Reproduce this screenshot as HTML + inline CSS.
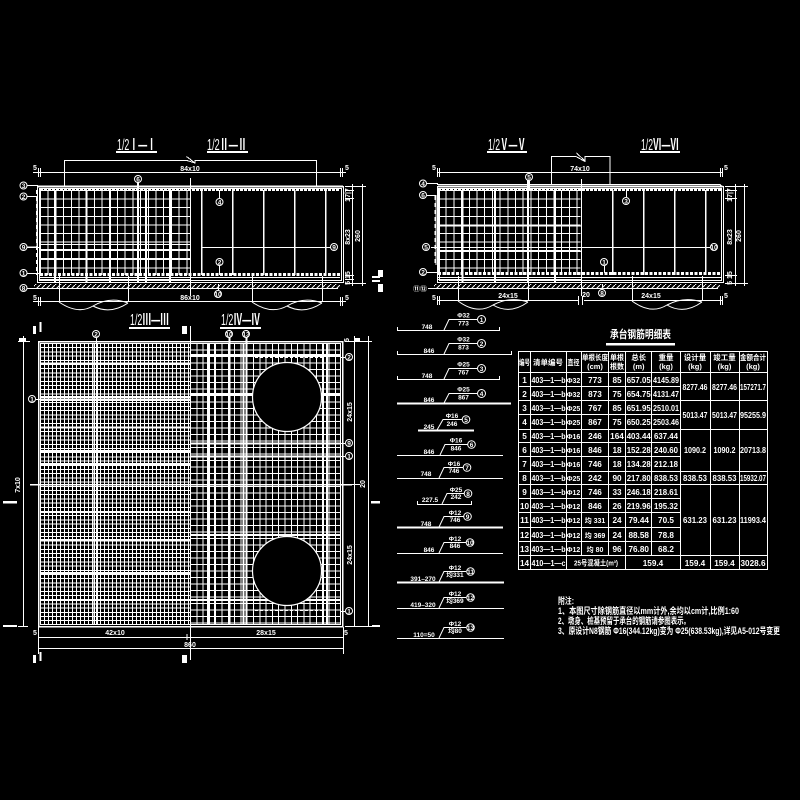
<!DOCTYPE html>
<html><head><meta charset="utf-8"><style>
html,body{margin:0;padding:0;background:#000;width:800px;height:800px;overflow:hidden}
svg{display:block}
text{font-family:"Liberation Sans","Noto Sans CJK SC",sans-serif;fill:#fff;stroke:none}
.d{font-size:7px;text-anchor:middle;font-weight:bold}
.t{font-size:8.2px;text-anchor:middle;font-weight:bold}
.s{font-size:7px;text-anchor:middle;font-weight:bold}
.h{font-size:7.5px;text-anchor:middle;font-weight:bold}
.c{font-size:6.5px;text-anchor:middle;font-weight:bold}
.ti{font-size:16px}
.n{font-size:9px}
</style></head><body>
<svg width="800" height="800" viewBox="0 0 800 800" xmlns="http://www.w3.org/2000/svg">
<defs>
<pattern id="ha" patternUnits="userSpaceOnUse" width="5" height="5"><path d="M0 5L5 0" stroke="#fff" fill="none"/></pattern>
</defs>
<rect width="800" height="800" fill="#000"/>

<!-- titles -->
<text class="ti" x="117" y="150" textLength="39" lengthAdjust="spacingAndGlyphs">1/2<tspan font-weight="bold">Ⅰ—Ⅰ</tspan></text>
<text class="ti" x="207" y="150" textLength="40" lengthAdjust="spacingAndGlyphs">1/2<tspan font-weight="bold">Ⅱ—Ⅱ</tspan></text>
<text class="ti" x="488" y="150" textLength="38" lengthAdjust="spacingAndGlyphs">1/2<tspan font-weight="bold">Ⅴ—Ⅴ</tspan></text>
<text class="ti" x="641" y="150" textLength="38" lengthAdjust="spacingAndGlyphs">1/2<tspan font-weight="bold">Ⅵ—Ⅵ</tspan></text>
<text class="ti" x="130" y="325" textLength="39" lengthAdjust="spacingAndGlyphs">1/2<tspan font-weight="bold">Ⅲ—Ⅲ</tspan></text>
<text class="ti" x="221" y="325" textLength="39" lengthAdjust="spacingAndGlyphs">1/2<tspan font-weight="bold">Ⅳ—Ⅳ</tspan></text>
<g fill="#fff" shape-rendering="crispEdges">
<rect x="116" y="151" width="41" height="2"/><rect x="207" y="151" width="41" height="2"/>
<rect x="487" y="151" width="40" height="2"/><rect x="640" y="151" width="40" height="2"/>
<rect x="129" y="327" width="41" height="2"/><rect x="220" y="327" width="41" height="2"/>
</g>

<!-- SECTION 1 -->
<g fill="none" stroke="#fff" shape-rendering="crispEdges">
<path d="M40 232.500H190" stroke-width="85" stroke-dasharray="1 6.700"/>
<path d="M115 190V275" stroke-width="150" stroke-dasharray="1 7.600"/>
<path stroke-width="2" d="M55 190V283M86.500 190V283M110 190V283M138 179V283M146 190V283M170 190V283"/>
<path d="M40 244.500H190M40 249.500H190M40 258.500H190"/>
<path d="M201.500 190V275M232.500 190V275M263.500 190V275M294.500 190V275M325.500 190V275" stroke-width="1.500"/>
<path d="M201 247.500H334"/>
<path d="M190.500 178V296"/>
<rect x="37.500" y="186.500" width="306" height="96"/>
<rect x="39.500" y="188.500" width="302" height="92"/>
<path d="M38 186.500H343" stroke-width="2"/>
<path d="M40 189.500H340" stroke-width="3" stroke-dasharray="3 1"/>
<path d="M40 274.500H340" stroke-width="3" stroke-dasharray="3 1.500"/>
<path d="M40 277.500H340M40 279.500H190"/>
<path d="M30 288.500H338"/>
<path d="M37 190V275" stroke-width="2" stroke-dasharray="4 3"/>
<path d="M64.500 186V160.500H187L195 163V160.500H316.500V186"/>
<path d="M186.500 156.500L195 163"/>
<path d="M33 172.500H346"/><path d="M38.500 168V177M40.500 168V177M340.500 168V177M342.500 168V177"/>
<path d="M33 301.500H346"/><path d="M38.500 297V306M40.500 297V306M340.500 297V306M342.500 297V306"/>
<path d="M59.500 276V302M128.500 276V302M252.500 276V302M322.500 276V302"/>
<path d="M345 186.500H366M345 190.500H354M345 198.500H354M345 275.500H354M345 279.500H354M345 283.500H366"/>
<path d="M352.500 184V286M362.500 184V286"/>
<path d="M26 185.500H38M26 196.500H37V247H26M27 247.500H40M27 273.500H40M27 288.500H34M138.500 183V190M219.500 190V199M219.500 265V275M218.500 284V290M330 247.500H325"/>
</g>
<rect x="34" y="284" width="306" height="4.500" fill="url(#ha)"/>
<path d="M59 302Q78 315 93 306Q110 296 128 303M93 306Q110 315 128 303M252 302Q271 315 287 306Q304 296 322 303M287 306Q304 315 322 303" fill="none" stroke="#fff"/>
<g fill="#fff" shape-rendering="crispEdges">
<rect x="372" y="276" width="8" height="2"/><rect x="372" y="280" width="8" height="2"/>
<rect x="378" y="270" width="5" height="7"/><rect x="378" y="284" width="5" height="8"/>
</g>
<text class="d" x="190" y="171">84x10</text><text class="d" x="190" y="300">86x10</text>
<text class="d" x="35" y="170">5</text><text class="d" x="347" y="170">5</text>
<text class="d" x="35" y="300">5</text><text class="d" x="347" y="300">5</text>
<text class="d" transform="translate(350,195) rotate(-90)">17|7</text>
<text class="d" transform="translate(350,237) rotate(-90)">8x23</text>
<text class="d" transform="translate(360,236) rotate(-90)">260</text>
<text class="d" transform="translate(350,278) rotate(-90)">5 15</text>

<!-- SECTION 2 -->
<g fill="none" stroke="#fff" shape-rendering="crispEdges">
<path d="M438 232.500H581" stroke-width="85" stroke-dasharray="1 6.700"/>
<path d="M509 190V275" stroke-width="143" stroke-dasharray="1 7.600"/>
<path stroke-width="2" d="M462.500 190V283M495 190V283M528 177V283M555 190V283"/>
<path d="M438 226H581M438 247.500H581M438 251.500H581"/>
<path d="M612.500 190V275M643.500 190V275M674.500 190V275M705.500 190V275" stroke-width="1.500"/>
<path d="M582 247.500H710"/>
<path d="M581.500 179V296"/>
<rect x="437.500" y="186.500" width="286" height="96"/>
<rect x="439.500" y="188.500" width="282" height="92"/>
<path d="M437 184.500H720L723 187"/>
<path d="M438 186.500H722" stroke-width="2"/>
<path d="M438 189.500H722" stroke-width="3" stroke-dasharray="3 1"/>
<path d="M438 273.500H720" stroke-width="3" stroke-dasharray="3 1.500"/>
<path d="M438 277.500H722M438 279.500H581"/>
<path d="M430 288.500H718"/>
<path d="M435 196V265" stroke-width="1.500" stroke-dasharray="4 3"/>
<path d="M551.500 184V156.500H576L585 161.500V156.500H610V184"/><path d="M576.500 153L585 161"/>
<path d="M437 172.500H722"/><path d="M437.500 168V177M439.500 168V177M720.500 168V177M722.500 168V177"/>
<path d="M437 300.500H578M584 300.500H723"/><path d="M437.500 296V305M439.500 296V305M578.500 296V305M582.500 296V305M720.500 296V305M722.500 296V305"/>
<path d="M458.500 276V301M528.500 276V301M632.500 276V301M702.500 276V301"/>
<path d="M725 186.500H748M725 190.500H737M725 198.500H737M725 275.500H737M725 283.500H748"/>
<path d="M735.500 184V286M744.500 184V286"/>
<path d="M427 183.500H438M427 195.500H436V265M431 247.500H438M427 272.500H438M428 288.500H434M529.500 181V190M626.500 190V197M604.500 266V273M602.500 284V289M710 247.500H706"/>
</g>
<rect x="434" y="284" width="286" height="4.500" fill="url(#ha)"/>
<path d="M458 301Q477 315 493 305Q510 296 528 302M493 305Q510 315 528 302M632 301Q651 315 667 305Q684 296 702 302M667 305Q684 315 702 302" fill="none" stroke="#fff"/>
<text class="d" x="580" y="171">74x10</text>
<text class="d" x="508" y="298">24x15</text><text class="d" x="651" y="298">24x15</text><text class="d" x="586" y="297">20</text>
<text class="d" x="434" y="170">5</text><text class="d" x="726" y="170">5</text>
<text class="d" x="434" y="300">5</text><text class="d" x="726" y="298">5</text>
<text class="d" transform="translate(732,195) rotate(-90)">17|7</text>
<text class="d" transform="translate(732,237) rotate(-90)">8x23</text>
<text class="d" transform="translate(741,236) rotate(-90)">260</text>
<text class="d" transform="translate(732,278) rotate(-90)">5 15</text>

<!-- PLAN -->
<g fill="none" stroke="#fff" shape-rendering="crispEdges">
<!-- left half: dense mesh drawn as dashed wide strokes -->
<path d="M40 484H190" stroke-width="282" stroke-dasharray="1 3"/>
<path d="M115 343V625" stroke-width="150" stroke-dasharray="1 3.200"/>
<!-- right half: open mesh -->
<path d="M190 484H340" stroke-width="282" stroke-dasharray="1 5.300"/>
<path d="M265 343V625" stroke-width="150" stroke-dasharray="1 5.500"/>
<g stroke-width="2">
<path d="M40 363.500H190M40 397H190M40 400H190M40 427.500H190M40 451H190M40 464H190M40 512H190M40 540H190M40 573H190M40 600H190"/>
<path d="M94 343V625M97 343V625" stroke-width="1.500"/>
<path d="M208 343V625M215 343V625M229.500 330V625M243.500 343V625M246.500 330V625M323 343V625M327 343V625"/>
<path d="M190 355H340M190 394H340M190 443.500H340M190 456.500H340M190 535H340M190 600H340"/>
</g>
<path d="M255 357.500H325M255 457H325M255 610.500H322" stroke-dasharray="3 2"/>
<rect x="38.500" y="341.500" width="304" height="285" stroke-width="1.500"/>
<rect x="40.500" y="343.500" width="300" height="281"/>
<path d="M30 484.500H352" stroke-width="1.500"/>
<path d="M36 399.500H190"/>
<path d="M190.500 326V660"/>
<path d="M23.500 336V627M354.500 336V627M368.500 336V627"/>
<path d="M18 341.500H30M345 341.500H372M345 484.500H360M345 626.500H372M18 626.500H28"/>
<path d="M38.500 634V641M343.500 634V641M38.500 627V654M343.500 627V654"/>
<path d="M38 637.500H343M38 648.500H343M187 634V640"/>
<path d="M96.500 338V343M229.500 338V343M246.500 338V343M340 357.500H345M340 443.500H345M340 456.500H345M340 611.500H345"/>
<path d="M40.500 322V332M40.500 652V661" stroke-width="2"/>
</g>
<circle cx="287" cy="397" r="34.500" fill="#000" stroke="#fff" stroke-width="1.200"/>
<circle cx="287" cy="571" r="34.500" fill="#000" stroke="#fff" stroke-width="1.200"/>
<g fill="#fff" shape-rendering="crispEdges">
<rect x="3" y="501" width="14" height="2.500"/><rect x="371" y="501" width="9" height="2.500"/>
<rect x="3" y="625" width="14" height="2"/><rect x="372" y="625" width="8" height="2"/>
<rect x="33" y="326" width="3" height="8"/><rect x="182" y="326" width="5" height="8"/>
<rect x="33" y="655" width="3" height="8"/><rect x="182" y="655" width="5" height="8"/>
<rect x="19" y="338" width="7" height="4"/><rect x="354" y="338" width="6" height="3"/>
</g>
<text class="d" x="115" y="635">42x10</text><text class="d" x="266" y="635">28x15</text><text class="d" x="190" y="647">860</text>
<text class="d" x="35" y="635">5</text><text class="d" x="346" y="635">5</text>
<text class="d" transform="translate(20,485) rotate(-90)">7x10</text>
<text class="d" transform="translate(352,412) rotate(-90)">24x15</text>
<text class="d" transform="translate(352,555) rotate(-90)">24x15</text>
<text class="d" transform="translate(365,484) rotate(-90)">20</text>
<text class="d" transform="translate(349,340) rotate(-90)">5</text>

<!-- circled labels -->
<g fill="#000" stroke="#fff">
<circle cx="23.500" cy="185.500" r="3.500"/><circle cx="23.500" cy="196.500" r="3.500"/><circle cx="23.500" cy="247" r="3.500"/><circle cx="23.500" cy="273" r="3.500"/><circle cx="23.500" cy="288" r="3.500"/>
<circle cx="138" cy="179" r="3.500"/><circle cx="219.500" cy="202" r="3.500"/><circle cx="219.500" cy="262" r="3.500"/><circle cx="334" cy="247" r="3.500"/><circle cx="218" cy="294" r="3.500"/>
<circle cx="423" cy="183.500" r="3.500"/><circle cx="423" cy="195" r="3.500"/><circle cx="426" cy="247" r="3.500"/><circle cx="423" cy="272" r="3.500"/>
<circle cx="529" cy="177" r="3.500"/><circle cx="626" cy="201" r="3.500"/><circle cx="604" cy="262" r="3.500"/><circle cx="714" cy="247" r="3.500"/><circle cx="602" cy="293" r="3.500"/>
<circle cx="32" cy="399" r="3.500"/><circle cx="96" cy="334" r="3.500"/><circle cx="229" cy="334" r="3.500"/><circle cx="246" cy="334" r="3.500"/>
<circle cx="349" cy="357" r="3.500"/><circle cx="349" cy="443" r="3.500"/><circle cx="349" cy="456" r="3.500"/><circle cx="349" cy="611" r="3.500"/>
</g>
<g>
<text class="c" x="23.500" y="188">3</text><text class="c" x="23.500" y="199">2</text><text class="c" x="23.500" y="249.500">9</text><text class="c" x="23.500" y="275.500">1</text><text class="c" x="23.500" y="290.500">8</text>
<text class="c" x="138" y="181.500">6</text><text class="c" x="219.500" y="204.500">4</text><text class="c" x="219.500" y="264.500">2</text><text class="c" x="334" y="249.500">9</text><text class="c" x="218" y="296.500">10</text>
<text class="c" x="423" y="186">4</text><text class="c" x="423" y="197.500">6</text><text class="c" x="426" y="249.500">5</text><text class="c" x="423" y="274.500">2</text><text class="d" x="420" y="291">⑪⑫</text>
<text class="c" x="529" y="179.500">5</text><text class="c" x="626" y="203.500">3</text><text class="c" x="604" y="264.500">1</text><text class="c" x="714" y="249.500">10</text><text class="c" x="602" y="295.500">8</text>
<text class="c" x="32" y="401.500">1</text><text class="c" x="96" y="336.500">2</text><text class="c" x="229" y="336.500">10</text><text class="c" x="246" y="336.500">13</text>
<text class="c" x="349" y="359.500">2</text><text class="c" x="349" y="445.500">9</text><text class="c" x="349" y="458.500">1</text><text class="c" x="349" y="613.500">1</text>
</g>

<!-- REBAR SCHEDULE -->
<g fill="none" stroke="#fff" shape-rendering="crispEdges">
<path d="M397.500 327V330.500H499.500V327"/>
<path d="M397.500 351V354.500H511.500V351"/>
<path d="M397.500 376V379.500H499.500V376"/>
<path d="M397 403.500H511" stroke-width="2"/>
<path d="M418 430.500H474" stroke-width="2"/>
<path d="M397 455.500H503"/>
<path d="M397 478.500H503"/>
<path d="M417.500 501V504.500H471.500V501"/>
<path d="M397 527.500H503" stroke-width="2"/>
<path d="M397 553.500H503"/>
<path d="M397 582.500H504" stroke-width="2"/>
<path d="M397 608.500H504"/>
<path d="M397 638.500H504"/>
</g>
<g fill="none" stroke="#fff">
<path d="M444 330L449 319.500H477M444 354L449 343.500H477M444 379L449 368.500H477M444 403L449 393.500H477M437 430L443 419.500H462M440 455L445 444.500H468M439 478L444 467.500H463M442 504L447 493.500H464M439 527L444 516.500H464M439 553L444 542.500H466M439 582L444 571.500H466M439 608L444 597.500H466M439 638L444 627.500H466"/>
<circle cx="481.500" cy="319.500" r="4"/><circle cx="481.500" cy="343.500" r="4"/><circle cx="481.500" cy="368.500" r="4"/><circle cx="481.500" cy="393.500" r="4"/><circle cx="466" cy="419.500" r="3.800"/><circle cx="471.500" cy="444.500" r="3.800"/><circle cx="467" cy="467.500" r="3.800"/><circle cx="468" cy="493.500" r="3.800"/><circle cx="467.500" cy="516.500" r="3.800"/><circle cx="470" cy="542.500" r="3.800"/><circle cx="470.500" cy="571.500" r="3.800"/><circle cx="470.500" cy="597.500" r="3.800"/><circle cx="470.500" cy="627.500" r="3.800"/>
</g>
<g>
<text class="c" x="481.500" y="322">1</text><text class="c" x="481.500" y="346">2</text><text class="c" x="481.500" y="371">3</text><text class="c" x="481.500" y="396">4</text><text class="c" x="466" y="422">5</text><text class="c" x="471.500" y="447">6</text><text class="c" x="467" y="470">7</text><text class="c" x="468" y="496">8</text><text class="c" x="467.500" y="519">9</text><text class="c" x="470" y="545">10</text><text class="c" x="470.500" y="574">11</text><text class="c" x="470.500" y="600">12</text><text class="c" x="470.500" y="630">13</text>
<text class="c" x="463.500" y="317.500">Φ32</text><text class="c" x="463.500" y="325.500">773</text><text class="c" x="427" y="329">748</text>
<text class="c" x="463.500" y="341.500">Φ32</text><text class="c" x="463.500" y="349.500">873</text><text class="c" x="429" y="353">846</text>
<text class="c" x="463.500" y="366.500">Φ25</text><text class="c" x="463.500" y="374.500">767</text><text class="c" x="427" y="378">748</text>
<text class="c" x="463.500" y="391.500">Φ25</text><text class="c" x="463.500" y="399.500">867</text><text class="c" x="429" y="402">846</text>
<text class="c" x="452" y="418">Φ16</text><text class="c" x="452" y="426">246</text><text class="c" x="429" y="429">245</text>
<text class="c" x="456" y="442.500">Φ16</text><text class="c" x="456" y="450.500">846</text><text class="c" x="429" y="454">846</text>
<text class="c" x="454" y="466">Φ16</text><text class="c" x="454" y="473">746</text><text class="c" x="426" y="476">748</text>
<text class="c" x="456" y="492">Φ25</text><text class="c" x="456" y="499">242</text><text class="c" x="430" y="502">227.5</text>
<text class="c" x="455" y="515">Φ12</text><text class="c" x="455" y="522">746</text><text class="c" x="426" y="526">748</text>
<text class="c" x="455" y="541">Φ12</text><text class="c" x="455" y="548">846</text><text class="c" x="429" y="552">846</text>
<text class="c" x="455" y="570">Φ12</text><text class="c" x="455" y="577">均331</text><text class="c" x="423" y="581">391–270</text>
<text class="c" x="455" y="596">Φ12</text><text class="c" x="455" y="603">均369</text><text class="c" x="423" y="607">419–320</text>
<text class="c" x="455" y="626">Φ12</text><text class="c" x="455" y="633">均80</text><text class="c" x="424" y="637">110=50</text>
</g>

<!-- TABLE -->
<text x="610" y="338" font-size="11" font-weight="bold" textLength="61" lengthAdjust="spacingAndGlyphs">承台钢筋明细表</text>
<rect x="606" y="343" width="69" height="2.500" fill="#fff"/>
<g fill="none" stroke="#fff" shape-rendering="crispEdges">
<rect x="518.500" y="351.500" width="249" height="218"/>
<path d="M518 372.500H767M518 386.500H680M518 400.500H767M518 414.500H680M518 429.500H767M518 442.500H680M518 456.500H680M518 471.500H767M518 484.500H767M518 498.500H680M518 512.500H680M518 527.500H680M518 541.500H680M518 555.500H767"/>
<path d="M530.500 352V569M566.500 352V569M581.500 352V555M608.500 352V555M625.500 352V569M651.500 352V555M680.500 352V569M710.500 352V569M739.500 352V569"/>
</g>
<g>
<text class="h" x="524.500" y="365" textLength="11" lengthAdjust="spacingAndGlyphs">编号</text><text class="h" x="548" y="365">清单编号</text><text class="h" x="573.500" y="365" textLength="12" lengthAdjust="spacingAndGlyphs">直径</text>
<text class="h" x="595" y="360" textLength="26" lengthAdjust="spacingAndGlyphs">单根长度</text><text class="h" x="595" y="369">(cm)</text>
<text class="h" x="617" y="360" textLength="14" lengthAdjust="spacingAndGlyphs">单根</text><text class="h" x="617" y="369" textLength="14" lengthAdjust="spacingAndGlyphs">根数</text>
<text class="h" x="638.700" y="360">总长</text><text class="h" x="638.700" y="369">(m)</text>
<text class="h" x="666" y="360">重量</text><text class="h" x="666" y="369">(kg)</text>
<text class="h" x="695" y="360">设计量</text><text class="h" x="695" y="369">(kg)</text>
<text class="h" x="724.500" y="360">竣工量</text><text class="h" x="724.500" y="369">(kg)</text>
<text class="h" x="753" y="360" textLength="26" lengthAdjust="spacingAndGlyphs">金额合计</text><text class="h" x="753" y="369">(kg)</text>
</g>
<g>
<text class="t" x="524.500" y="383">1</text><text class="t" x="548.500" y="383" textLength="34" lengthAdjust="spacingAndGlyphs">403—1—b</text><text class="s" x="573.500" y="383">Φ32</text><text class="t" x="595" y="383">773</text><text class="t" x="617" y="383">85</text><text class="t" x="638.700" y="383" textLength="24" lengthAdjust="spacingAndGlyphs">657.05</text><text class="t" x="666" y="383" textLength="26" lengthAdjust="spacingAndGlyphs">4145.89</text>
<text class="t" x="524.500" y="397">2</text><text class="t" x="548.500" y="397" textLength="34" lengthAdjust="spacingAndGlyphs">403—1—b</text><text class="s" x="573.500" y="397">Φ32</text><text class="t" x="595" y="397">873</text><text class="t" x="617" y="397">75</text><text class="t" x="638.700" y="397" textLength="24" lengthAdjust="spacingAndGlyphs">654.75</text><text class="t" x="666" y="397" textLength="26" lengthAdjust="spacingAndGlyphs">4131.47</text>
<text class="t" x="524.500" y="411">3</text><text class="t" x="548.500" y="411" textLength="34" lengthAdjust="spacingAndGlyphs">403—1—b</text><text class="s" x="573.500" y="411">Φ25</text><text class="t" x="595" y="411">767</text><text class="t" x="617" y="411">85</text><text class="t" x="638.700" y="411" textLength="24" lengthAdjust="spacingAndGlyphs">651.95</text><text class="t" x="666" y="411" textLength="26" lengthAdjust="spacingAndGlyphs">2510.01</text>
<text class="t" x="524.500" y="425">4</text><text class="t" x="548.500" y="425" textLength="34" lengthAdjust="spacingAndGlyphs">403—1—b</text><text class="s" x="573.500" y="425">Φ25</text><text class="t" x="595" y="425">867</text><text class="t" x="617" y="425">75</text><text class="t" x="638.700" y="425" textLength="24" lengthAdjust="spacingAndGlyphs">650.25</text><text class="t" x="666" y="425" textLength="26" lengthAdjust="spacingAndGlyphs">2503.46</text>
<text class="t" x="524.500" y="439">5</text><text class="t" x="548.500" y="439" textLength="34" lengthAdjust="spacingAndGlyphs">403—1—b</text><text class="s" x="573.500" y="439">Φ16</text><text class="t" x="595" y="439">246</text><text class="t" x="617" y="439">164</text><text class="t" x="638.700" y="439" textLength="24" lengthAdjust="spacingAndGlyphs">403.44</text><text class="t" x="666" y="439" textLength="24" lengthAdjust="spacingAndGlyphs">637.44</text>
<text class="t" x="524.500" y="453">6</text><text class="t" x="548.500" y="453" textLength="34" lengthAdjust="spacingAndGlyphs">403—1—b</text><text class="s" x="573.500" y="453">Φ16</text><text class="t" x="595" y="453">846</text><text class="t" x="617" y="453">18</text><text class="t" x="638.700" y="453" textLength="24" lengthAdjust="spacingAndGlyphs">152.28</text><text class="t" x="666" y="453" textLength="24" lengthAdjust="spacingAndGlyphs">240.60</text>
<text class="t" x="524.500" y="467">7</text><text class="t" x="548.500" y="467" textLength="34" lengthAdjust="spacingAndGlyphs">403—1—b</text><text class="s" x="573.500" y="467">Φ16</text><text class="t" x="595" y="467">746</text><text class="t" x="617" y="467">18</text><text class="t" x="638.700" y="467" textLength="24" lengthAdjust="spacingAndGlyphs">134.28</text><text class="t" x="666" y="467" textLength="24" lengthAdjust="spacingAndGlyphs">212.18</text>
<text class="t" x="524.500" y="481">8</text><text class="t" x="548.500" y="481" textLength="34" lengthAdjust="spacingAndGlyphs">403—1—b</text><text class="s" x="573.500" y="481">Φ25</text><text class="t" x="595" y="481">242</text><text class="t" x="617" y="481">90</text><text class="t" x="638.700" y="481" textLength="24" lengthAdjust="spacingAndGlyphs">217.80</text><text class="t" x="666" y="481" textLength="24" lengthAdjust="spacingAndGlyphs">838.53</text>
<text class="t" x="524.500" y="495">9</text><text class="t" x="548.500" y="495" textLength="34" lengthAdjust="spacingAndGlyphs">403—1—b</text><text class="s" x="573.500" y="495">Φ12</text><text class="t" x="595" y="495">746</text><text class="t" x="617" y="495">33</text><text class="t" x="638.700" y="495" textLength="24" lengthAdjust="spacingAndGlyphs">246.18</text><text class="t" x="666" y="495" textLength="24" lengthAdjust="spacingAndGlyphs">218.61</text>
<text class="t" x="524.500" y="509">10</text><text class="t" x="548.500" y="509" textLength="34" lengthAdjust="spacingAndGlyphs">403—1—b</text><text class="s" x="573.500" y="509">Φ12</text><text class="t" x="595" y="509">846</text><text class="t" x="617" y="509">26</text><text class="t" x="638.700" y="509" textLength="24" lengthAdjust="spacingAndGlyphs">219.96</text><text class="t" x="666" y="509" textLength="24" lengthAdjust="spacingAndGlyphs">195.32</text>
<text class="t" x="524.500" y="523">11</text><text class="t" x="548.500" y="523" textLength="34" lengthAdjust="spacingAndGlyphs">403—1—b</text><text class="s" x="573.500" y="523">Φ12</text><text class="s" x="595" y="523">均 331</text><text class="t" x="617" y="523">24</text><text class="t" x="638.700" y="523">79.44</text><text class="t" x="666" y="523">70.5</text>
<text class="t" x="524.500" y="538">12</text><text class="t" x="548.500" y="538" textLength="34" lengthAdjust="spacingAndGlyphs">403—1—b</text><text class="s" x="573.500" y="538">Φ12</text><text class="s" x="595" y="538">均 369</text><text class="t" x="617" y="538">24</text><text class="t" x="638.700" y="538">88.58</text><text class="t" x="666" y="538">78.8</text>
<text class="t" x="524.500" y="552">13</text><text class="t" x="548.500" y="552" textLength="34" lengthAdjust="spacingAndGlyphs">403—1—b</text><text class="s" x="573.500" y="552">Φ12</text><text class="s" x="595" y="552">均 80</text><text class="t" x="617" y="552">96</text><text class="t" x="638.700" y="552">76.80</text><text class="t" x="666" y="552">68.2</text>
<text class="t" x="524.500" y="566">14</text><text class="t" x="548.500" y="566" textLength="34" lengthAdjust="spacingAndGlyphs">410—1—c</text><text class="h" x="596" y="565.500" textLength="44" lengthAdjust="spacingAndGlyphs">25号混凝土(m³)</text><text class="t" x="653" y="566">159.4</text><text class="t" x="695" y="566">159.4</text><text class="t" x="724.500" y="566">159.4</text><text class="t" x="753" y="566">3028.6</text>
<text class="t" x="695" y="390" textLength="25" lengthAdjust="spacingAndGlyphs">8277.46</text><text class="t" x="724.500" y="390" textLength="25" lengthAdjust="spacingAndGlyphs">8277.46</text><text class="t" x="753" y="390" textLength="26" lengthAdjust="spacingAndGlyphs">157271.7</text>
<text class="t" x="695" y="418" textLength="25" lengthAdjust="spacingAndGlyphs">5013.47</text><text class="t" x="724.500" y="418" textLength="25" lengthAdjust="spacingAndGlyphs">5013.47</text><text class="t" x="753" y="418" textLength="26" lengthAdjust="spacingAndGlyphs">95255.9</text>
<text class="t" x="695" y="453" textLength="22" lengthAdjust="spacingAndGlyphs">1090.2</text><text class="t" x="724.500" y="453" textLength="22" lengthAdjust="spacingAndGlyphs">1090.2</text><text class="t" x="753" y="453" textLength="26" lengthAdjust="spacingAndGlyphs">20713.8</text>
<text class="t" x="695" y="481" textLength="24" lengthAdjust="spacingAndGlyphs">838.53</text><text class="t" x="724.500" y="481" textLength="24" lengthAdjust="spacingAndGlyphs">838.53</text><text class="t" x="753" y="481" textLength="26" lengthAdjust="spacingAndGlyphs">15932.07</text>
<text class="t" x="695" y="523" textLength="24" lengthAdjust="spacingAndGlyphs">631.23</text><text class="t" x="724.500" y="523" textLength="24" lengthAdjust="spacingAndGlyphs">631.23</text><text class="t" x="753" y="523" textLength="26" lengthAdjust="spacingAndGlyphs">11993.4</text>
</g>

<!-- NOTES -->
<g font-weight="bold">
<text class="n" x="558" y="604" textLength="16" lengthAdjust="spacingAndGlyphs">附注:</text>
<text class="n" x="558" y="614" textLength="181" lengthAdjust="spacingAndGlyphs">1、本图尺寸除钢筋直径以mm计外,余均以cm计,比例1:60</text>
<text class="n" x="558" y="624" textLength="132" lengthAdjust="spacingAndGlyphs">2、墩身、桩基预留于承台的钢筋请参图表示。</text>
<text class="n" x="558" y="634" textLength="222" lengthAdjust="spacingAndGlyphs">3、原设计N8钢筋 Φ16(344.12kg)变为 Φ25(638.53kg),详见A5-012号变更</text>
</g>
</svg>
</body></html>
